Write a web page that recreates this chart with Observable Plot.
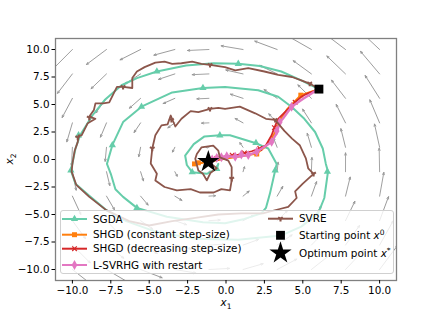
<!DOCTYPE html>
<html><head><meta charset="utf-8">
<script src="https://cdn.jsdelivr.net/npm/d3@7"></script>
<script src="https://cdn.jsdelivr.net/npm/@observablehq/plot@0.6"></script>
<style>
body{margin:0;background:#fff;}
#wrap{position:relative;width:440px;height:315px;font-family:"DejaVu Sans",sans-serif;}
#legend{position:absolute;left:60px;top:210px;width:334px;height:64px;background:rgba(255,255,255,0.8);border:1px solid #d0d0d0;border-radius:3px;box-sizing:border-box;}
#legend svg{position:absolute;left:-1px;top:-1px;overflow:visible}
</style></head>
<body><div id="wrap"><div id="legend"></div></div>
<script>
// ---- data ----
const xTicks = [-10, -7.5, -5, -2.5, 0, 2.5, 5, 7.5, 10];
const yTicks = [-10, -7.5, -5, -2.5, 0, 2.5, 5, 7.5, 10];
const quiverGrid = [-10, -7.78, -5.56, -3.33, -1.11, 1.11, 3.33, 5.56, 7.78, 10];
const fieldMatrix = [[-0.1, -1.0], [1.0, -0.05]]; // linear game field around x*
const optimumPoint = [[-1.15, -0.2]];
const startPoint = [[6.05, 6.4]];
const seriesNames = ["SGDA", "SHGD (constant step-size)", "SHGD (decreasing step-size)", "L-SVRHG with restart", "SVRE"];

const sgdaPath = [[6.05,6.4],[5.65,6.67],[4.9,7.2],[3.6,8.0],[2.2,8.5],[0.8,8.7],[-0.8,8.75],[-2.6,8.55],[-4.5,8.0],[-5.8,7.4],[-6.8,6.75],[-7.9,5.4],[-8.7,4.0],[-9.5,2.2],[-9.8,1.0],[-10.0,-0.36],[-10.1,-1.0],[-9.8,-2.2],[-8.9,-3.3],[-7.8,-4.6],[-6.5,-5.6],[-4.5,-6.6],[-2.0,-7.2],[0.8,-7.3],[3.6,-6.9],[4.9,-6.1],[6.0,-4.9],[6.4,-3.5],[6.64,-1.1],[6.5,-0.4],[6.3,1.0],[5.8,2.5],[5.1,3.7],[4.3,4.75],[3.4,5.7],[2.1,6.3],[-0.06,6.6],[-1.5,6.5],[-3.5,6.1],[-5.5,4.8],[-6.7,3.4],[-7.4,1.3],[-7.75,-0.4],[-7.5,-1.3],[-7.2,-2.7],[-6.7,-3.4],[-5.8,-4.4],[-3.85,-5.2],[-1.5,-5.7],[-0.06,-5.8],[1.2,-5.4],[2.3,-4.9],[2.6,-4.4],[2.86,-3.1],[3.2,-1.0],[3.3,-0.4],[2.75,1.0],[1.9,1.5],[0.26,2.2],[-0.4,2.2],[-1.4,2.1],[-2.1,1.4],[-2.66,0.36],[-2.55,-0.5],[-2.2,-1.15],[-1.25,-1.3],[-0.6,-0.85],[-0.5,-0.4]];
const sgdaMarks = [[0.8,8.7],[-4.5,8.0],[-9.6,2.2],[-10.1,-1.0],[6.6,-1.1],[4.2,4.7],[-1.5,6.5],[-5.5,4.8],[-7.4,1.3],[-5.8,-4.4],[3.2,-1.0],[1.95,1.5],[-0.4,2.2],[-2.2,-1.15],[-0.6,-0.85]];

const shgdConstPath = [[6.05,6.4],[4.87,5.85],[4.0,4.6],[3.5,3.5],[3.1,2.2],[2.6,1.2],[2.0,0.55],[1.0,0.3],[0.0,0.1],[-1.15,-0.2],[-2.0,-0.4],[-1.5,-0.3]];
const shgdConstMarks = [[4.87,5.85],[2.0,0.5],[-2.05,-0.4],[-1.8,-0.3]];

const shgdDecPath = [[6.05,6.4],[5.3,6.0],[4.9,5.7],[4.5,5.2],[3.9,4.4],[3.4,3.7],[3.15,2.9],[2.97,2.2],[2.6,1.3],[2.2,1.0],[1.67,0.75],[0.8,0.45],[0.0,0.3],[-0.6,0.1],[-1.15,-0.2]];
const shgdDecMarks = [[4.5,5.2],[3.15,2.9],[2.2,1.0],[1.2,0.6],[0.4,0.4],[-0.6,0.1]];

const lsvrhgPath = [[6.05,6.4],[5.67,6.1],[5.0,5.5],[4.27,4.8],[3.7,3.7],[3.5,3.4],[3.3,2.4],[2.97,1.6],[2.5,1.15],[2.0,0.7],[1.45,0.4],[0.6,0.25],[0.05,0.3],[-0.6,0.15],[-1.15,-0.1]];
const lsvrhgMarks = [[4.27,4.8],[3.5,3.4],[3.3,2.6],[2.97,1.6],[2.0,0.7],[1.45,0.4],[1.0,0.45],[0.6,0.25],[0.05,0.3],[-0.3,0.2],[-0.6,0.15],[-0.9,0.0]];

const svrePath = [[6.05,6.4],[5.45,6.9],[4.9,7.2],[4.3,7.5],[3.4,7.7],[2.5,8.0],[1.45,8.3],[0.6,8.1],[-0.07,8.4],[-1.04,8.6],[-1.6,8.7],[-2.2,8.9],[-2.9,8.75],[-3.5,8.7],[-4.0,8.9],[-4.6,8.8],[-5.3,8.4],[-5.8,8.0],[-6.1,7.4],[-6.1,6.5],[-6.7,6.6],[-7.1,6.6],[-7.6,5.2],[-8.0,5.1],[-8.5,5.1],[-8.6,4.5],[-8.9,3.9],[-8.5,3.7],[-9.0,3.3],[-9.4,2.2],[-9.6,2.2],[-9.65,1.6],[-9.85,0.8],[-10.0,-0.4],[-10.05,-1.1],[-9.75,-2.3],[-8.9,-3.4],[-7.8,-4.6],[-6.3,-5.6],[-5.0,-6.0],[-3.5,-5.6],[-2.0,-5.3],[-0.5,-5.0],[1.0,-4.9],[2.4,-4.9],[3.5,-4.5],[4.05,-4.3],[4.6,-3.5],[4.5,-2.9],[5.0,-2.2],[5.7,-1.3],[5.35,-0.8],[5.2,0.1],[5.1,0.4],[4.8,1.3],[4.3,1.9],[3.8,2.6],[3.2,3.6],[2.6,3.7],[1.9,4.2],[0.9,4.8],[-0.06,4.6],[-0.5,4.7],[-1.04,4.6],[-1.8,4.3],[-2.3,4.4],[-2.9,3.7],[-3.3,3.0],[-3.6,4.0],[-3.8,3.2],[-4.2,3.1],[-4.6,2.2],[-4.8,1.0],[-4.9,-0.36],[-4.5,-1.3],[-4.6,-1.9],[-4.0,-2.5],[-3.2,-2.8],[-2.3,-2.7],[-1.7,-3.0],[-0.8,-3.0],[-0.3,-2.7],[0.26,-2.8],[0.37,-1.9],[0.37,-0.7],[0.15,-0.1],[-0.4,0.2],[-0.5,0.8],[-0.83,1.27],[-1.6,1.1],[-1.9,0.5],[-2.0,0.06],[-1.8,-1.0],[-1.5,-1.3],[-1.25,-1.9],[-1.0,-1.2],[-0.6,-0.8],[-1.15,-0.2]];
const svreMarks = [[5.45,6.9],[-1.04,8.6],[-6.7,6.6],[-8.9,3.8],[-9.65,2.0],[5.7,-1.3],[3.2,3.6],[-1.04,4.6],[-3.55,3.6],[-4.8,1.0],[0.37,-1.75]];

// ---- styles ----
const C = {sgda:"#66cdaa", shgdC:"#ff7f0e", shgdD:"#d62728", lsv:"#e377c2", svre:"#8c564b"};
const quiverScale = 2.1;

const field = [];
for (const gx of quiverGrid) for (const gy of quiverGrid) {
  const dx = gx - optimumPoint[0][0], dy = gy - optimumPoint[0][1];
  const u = fieldMatrix[0][0]*dx + fieldMatrix[0][1]*dy;
  const v = fieldMatrix[1][0]*dx + fieldMatrix[1][1]*dy;
  field.push({x: gx, y: gy, r: Math.atan2(u, v)*180/Math.PI, l: quiverScale*Math.hypot(u, v)});
}
const quiverShape = {draw(ctx, l) {
  const h = Math.min(2.2, l*0.3), w = 0.9;
  ctx.moveTo(0, 0); ctx.lineTo(0, -l);
  ctx.moveTo(-w, h - l); ctx.lineTo(0, -l); ctx.lineTo(w, h - l);
}};
const X = d => d[0], Y = d => d[1];
const fmt = d3.format(".1f");

const chart = Plot.plot({
  width: 440, height: 315,
  marginLeft: 55, marginRight: 44, marginTop: 38, marginBottom: 35,
  x: {domain: [-11.1, 11.1]},
  y: {domain: [-11, 11]},
  length: {type: "identity"},
  style: {fontFamily: "DejaVu Sans", fontSize: "10.4px", color: "black", background: "transparent"},
  marks: [
    Plot.vector(field, {x: "x", y: "y", rotate: "r", length: "l", anchor: "start", stroke: "#959595", strokeWidth: 0.85, shape: quiverShape, clip: true}),
    Plot.line(sgdaPath, {x: X, y: Y, stroke: C.sgda, strokeWidth: 2, clip: true}),
    Plot.dot(sgdaMarks, {x: X, y: Y, symbol: "triangle", fill: C.sgda, r: 2.7}),
    Plot.line(shgdConstPath, {x: X, y: Y, stroke: C.shgdC, strokeWidth: 2}),
    Plot.dot(shgdConstMarks, {x: X, y: Y, symbol: "square", fill: C.shgdC, r: 2.8}),
    Plot.line(shgdDecPath, {x: X, y: Y, stroke: C.shgdD, strokeWidth: 1.8}),
    Plot.dot(shgdDecMarks, {x: X, y: Y, symbol: "times", stroke: C.shgdD, strokeWidth: 1.2, r: 2.2}),
    Plot.line(lsvrhgPath, {x: X, y: Y, stroke: C.lsv, strokeWidth: 2.4}),
    Plot.dot(lsvrhgMarks, {x: X, y: Y, symbol: "diamond", fill: C.lsv, r: 3}),
    Plot.line(svrePath, {x: X, y: Y, stroke: C.svre, strokeWidth: 1.8}),
    Plot.dot(svreMarks, {x: X, y: Y, symbol: "wye", fill: C.svre, r: 2.2}),
    Plot.dot(startPoint, {x: X, y: Y, symbol: "square", fill: "black", r: 5}),
    Plot.dot(optimumPoint, {x: X, y: Y, symbol: "star", fill: "black", r: 7}),
    Plot.frame({stroke: "#808080", strokeWidth: 1.3}),
    Plot.axisX(xTicks, {tickFormat: fmt, tickSize: 3.5, tickPadding: 2.5, label: null}),
    Plot.axisY(yTicks, {tickFormat: fmt, tickSize: 3.5, tickPadding: 2.5, label: null})
  ]
});
document.getElementById("wrap").prepend(chart);

// axis titles (italic x with subscripts)
const svg = d3.select(chart);
const xl = svg.append("text").attr("x", 226).attr("y", 306).attr("text-anchor", "middle")
  .attr("font-family", "DejaVu Sans").attr("font-size", 10.4);
xl.append("tspan").attr("font-style", "italic").text("x");
xl.append("tspan").attr("font-size", 7.5).attr("dy", 2.5).text("1");
const yl = svg.append("text").attr("transform", "translate(13,159) rotate(-90)").attr("text-anchor", "middle")
  .attr("font-family", "DejaVu Sans").attr("font-size", 10.4);
yl.append("tspan").attr("font-style", "italic").text("x");
yl.append("tspan").attr("font-size", 7.5).attr("dy", 2.5).text("2");

// legend
const lg = d3.select("#legend").append("svg").attr("width", 334).attr("height", 64)
  .attr("font-family", "DejaVu Sans").attr("font-size", 10.4);
const sym = (type, r) => d3.symbol(type, Math.PI*r*r)();
const entries = [
  {name: seriesNames[0], c: C.sgda, x: 2, y: 9, s: d3.symbolTriangle, r: 2.7, fill: true},
  {name: seriesNames[1], c: C.shgdC, x: 2, y: 24.7, s: d3.symbolSquare, r: 2.8, fill: true},
  {name: seriesNames[2], c: C.shgdD, x: 2, y: 38.7, s: d3.symbolTimes, r: 2.2, fill: false},
  {name: seriesNames[3], c: C.lsv, x: 2, y: 55, s: d3.symbolDiamond, r: 3, fill: true},
  {name: seriesNames[4], c: C.svre, x: 208, y: 8.7, s: d3.symbolWye, r: 2.2, fill: true}
];
for (const e of entries) {
  lg.append("line").attr("x1", e.x).attr("x2", e.x + 25).attr("y1", e.y).attr("y2", e.y)
    .attr("stroke", e.c).attr("stroke-width", 2);
  lg.append("path").attr("d", sym(e.s, e.r)).attr("transform", `translate(${e.x + 12.5},${e.y})`)
    .attr("fill", e.fill ? e.c : "none").attr("stroke", e.fill ? "none" : e.c).attr("stroke-width", 1.2);
  lg.append("text").attr("x", e.x + 31).attr("y", e.y).attr("dy", "0.35em").text(e.name);
}
lg.append("path").attr("d", sym(d3.symbolSquare, 5)).attr("transform", "translate(220.5,25.3)").attr("fill", "black");
const t1 = lg.append("text").attr("x", 239).attr("y", 25.3).attr("dy", "0.35em");
t1.append("tspan").text("Starting point ");
t1.append("tspan").attr("font-style", "italic").text("x");
t1.append("tspan").attr("font-size", 7.5).attr("dy", -4).text("0");
lg.append("path").attr("d", sym(d3.symbolStar, 7)).attr("transform", "translate(220.5,43)").attr("fill", "black");
const t2 = lg.append("text").attr("x", 239).attr("y", 43).attr("dy", "0.35em");
t2.append("tspan").text("Optimum point ");
t2.append("tspan").attr("font-style", "italic").text("x");
t2.append("tspan").attr("font-size", 7.5).attr("dy", -4).text("*");
</script></body></html>
